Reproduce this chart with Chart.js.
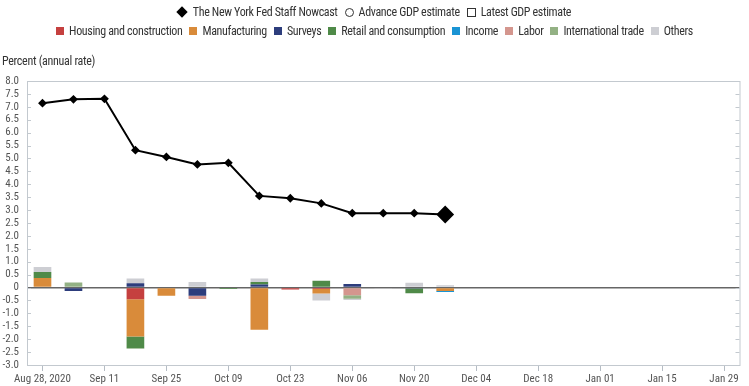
<!DOCTYPE html>
<html>
<head>
<meta charset="utf-8">
<script src="https://cdn.jsdelivr.net/npm/chart.js@4"></script>
<style>
  body { margin: 0; background: #fff; }
  #wrap { position: relative; width: 749px; height: 386px; font-family: "Liberation Sans Narrow", "Roboto Condensed", Roboto, sans-serif; color: #333; }
  #chart { position: absolute; left: 0; top: 0; }
  .row { position: absolute; left: 0; width: 749px; display: flex; justify-content: center; align-items: center; font-size: 12px; letter-spacing: -0.35px; white-space: nowrap; }
  .item { display: flex; align-items: center; margin: 0 3.5px; }
  .sw { display: inline-block; width: 8px; height: 8px; margin-right: 5px; }
  #unit { position: absolute; left: 2px; top: 54px; font-size: 12px; letter-spacing: -0.3px; }
</style>
</head>
<body>
<div id="wrap">
  <canvas id="chart" width="749" height="386"></canvas>
  <div class="row" id="row1" style="top:5px"></div>
  <div class="row" id="row2" style="top:24px"></div>
  <div id="unit">Percent (annual rate)</div>
</div>
<script>
// weekly release dates
const weeks = ['Aug 28, 2020', 'Sep 04', 'Sep 11', 'Sep 18', 'Sep 25', 'Oct 02', 'Oct 09', 'Oct 16', 'Oct 23', 'Oct 30',
    'Nov 06', 'Nov 13', 'Nov 20', 'Nov 27', 'Dec 04', 'Dec 11', 'Dec 18', 'Dec 25', 'Jan 01', 'Jan 08', 'Jan 15', 'Jan 22', 'Jan 29'];

const nowcast = [7.14, 7.29, 7.31, 5.32, 5.06, 4.77, 4.83, 3.55, 3.46, 3.26, 2.88, 2.88, 2.88, 2.83];

// news contributions by category
const housing       = [0, 0.03, 0, -0.45, 0, 0, 0.03, 0, -0.08, -0.06, 0, 0, 0, 0];
const manufacturing = [0.37, 0, 0, -1.45, -0.32, 0, 0, -1.63, 0, -0.17, 0, 0, 0, -0.13];
const surveys       = [0, -0.13, 0, 0.17, 0, -0.32, 0, 0.12, 0, 0, 0.14, 0, -0.04, 0];
const retail        = [0.23, 0, 0, -0.45, 0, 0.03, -0.06, 0.09, 0, 0.26, 0, 0, -0.18, 0];
const income        = [0, 0, 0, 0, 0, 0, 0, 0, 0, 0, 0, 0, 0, -0.04];
const labor         = [0, 0, 0, 0, 0, -0.12, 0, 0, 0, 0, -0.3, 0, 0, 0];
const trade         = [0, 0.17, 0, -0.02, 0, 0, 0, 0, 0, 0, -0.13, 0, 0, 0.03];
const others        = [0.2, 0, 0, 0.18, 0, 0.18, 0, 0.14, 0, -0.27, -0.05, -0.02, 0.19, 0.06];

const categories = ['Housing and construction', 'Manufacturing', 'Surveys', 'Retail and consumption', 'Income', 'Labor', 'International trade', 'Others'];
const catColors = ['#c5403f', '#d98b3a', '#2d3d7c', '#4f8a48', '#1a94d4', '#d4968e', '#93b184', '#cdced3'];
const catData = [housing, manufacturing, surveys, retail, income, labor, trade, others];

const yTicks = [];
for (let v = -3; v <= 8; v += 0.5) yTicks.push(v);

const fontFam = '"Liberation Sans Narrow", "Roboto Condensed", Roboto, sans-serif';

// html legend
const row1 = document.getElementById('row1');
row1.innerHTML =
  '<span class="item"><span style="display:inline-block;width:8px;height:8px;background:#000;transform:rotate(45deg);margin-right:7px"></span>The New York Fed Staff Nowcast</span>' +
  '<span class="item"><span style="display:inline-block;width:7px;height:7px;border:1.5px solid #333;border-radius:50%;margin-right:5px"></span>Advance GDP estimate</span>' +
  '<span class="item"><span style="display:inline-block;width:7px;height:7px;border:1px solid #333;margin-right:5px"></span>Latest GDP estimate</span>';
const row2 = document.getElementById('row2');
categories.forEach((c, i) => {
  row2.innerHTML += '<span class="item"><span class="sw" style="background:' + catColors[i] + '"></span>' + c + '</span>';
});

const datasets = [{
  type: 'line',
  label: 'The New York Fed Staff Nowcast',
  data: nowcast,
  stack: 'nowcast',
  borderColor: '#000',
  backgroundColor: '#000',
  borderWidth: 2,
  pointStyle: 'rectRot',
  pointRadius: nowcast.map((v, i) => i == nowcast.length - 1 ? 7.5 : 3),
  pointHoverRadius: 4,
  tension: 0,
  order: 0
}];
categories.forEach((c, i) => {
  datasets.push({
    type: 'bar',
    label: c,
    data: catData[i],
    backgroundColor: catColors[i],
    borderWidth: 0,
    stack: 'news',
    barPercentage: 0.57,
    categoryPercentage: 1,
    order: 1
  });
});

const frame = {
  id: 'frame',
  afterDraw(chart) {
    const a = chart.chartArea, c = chart.ctx, y = chart.scales.y;
    c.save();
    c.strokeStyle = '#c3c9cf';
    c.lineWidth = 1;
    c.strokeRect(a.left + 0.5, a.top + 0.5, a.right - a.left, a.bottom - a.top);
    c.beginPath();
    y.ticks.forEach(t => {
      const p = Math.round(y.getPixelForValue(t.value)) + 0.5;
      c.moveTo(a.left, p); c.lineTo(a.left + 4, p);
      c.moveTo(a.right - 4, p); c.lineTo(a.right, p);
    });
    c.stroke();
    c.restore();
  }
};

new Chart(document.getElementById('chart'), {
  data: { labels: weeks, datasets: datasets },
  options: {
    responsive: false,
    animation: false,
    layout: { padding: { top: 81, right: 8, left: 0, bottom: 0 } },
    plugins: { legend: { display: false }, tooltip: { enabled: false } },
    scales: {
      x: {
        stacked: true,
        offset: true,
        afterFit: s => { s.height = 21; },
        grid: {
          offset: false,
          drawOnChartArea: false,
          drawTicks: true,
          tickLength: 6,
          color: ctx => ctx.index % 2 ? 'rgba(0,0,0,0)' : '#b5bcc4'
        },
        border: { color: '#c3c9cf' },
        ticks: {
          autoSkip: false,
          maxRotation: 0,
          padding: 2,
          color: '#555',
          font: { family: fontFam, size: 11 },
          callback: function (v, i) { return i % 2 ? '' : weeks[i]; }
        }
      },
      y: {
        stacked: true,
        min: -3,
        max: 8,
        afterFit: s => { s.width = 27; },
        afterBuildTicks: s => { s.ticks = yTicks.map(v => ({ value: v })); },
        grid: {
          drawTicks: false,
          color: ctx => ctx.tick && ctx.tick.value === 0 ? '#666' : 'rgba(0,0,0,0)',
          lineWidth: 1.5
        },
        border: { color: '#c3c9cf' },
        ticks: {
          autoSkip: false,
          padding: 8,
          color: '#555',
          font: { family: fontFam, size: 11 },
          callback: v => v === 0 ? '0' : v.toFixed(1)
        }
      }
    }
  },
  plugins: [frame]
});
</script>
</body>
</html>
